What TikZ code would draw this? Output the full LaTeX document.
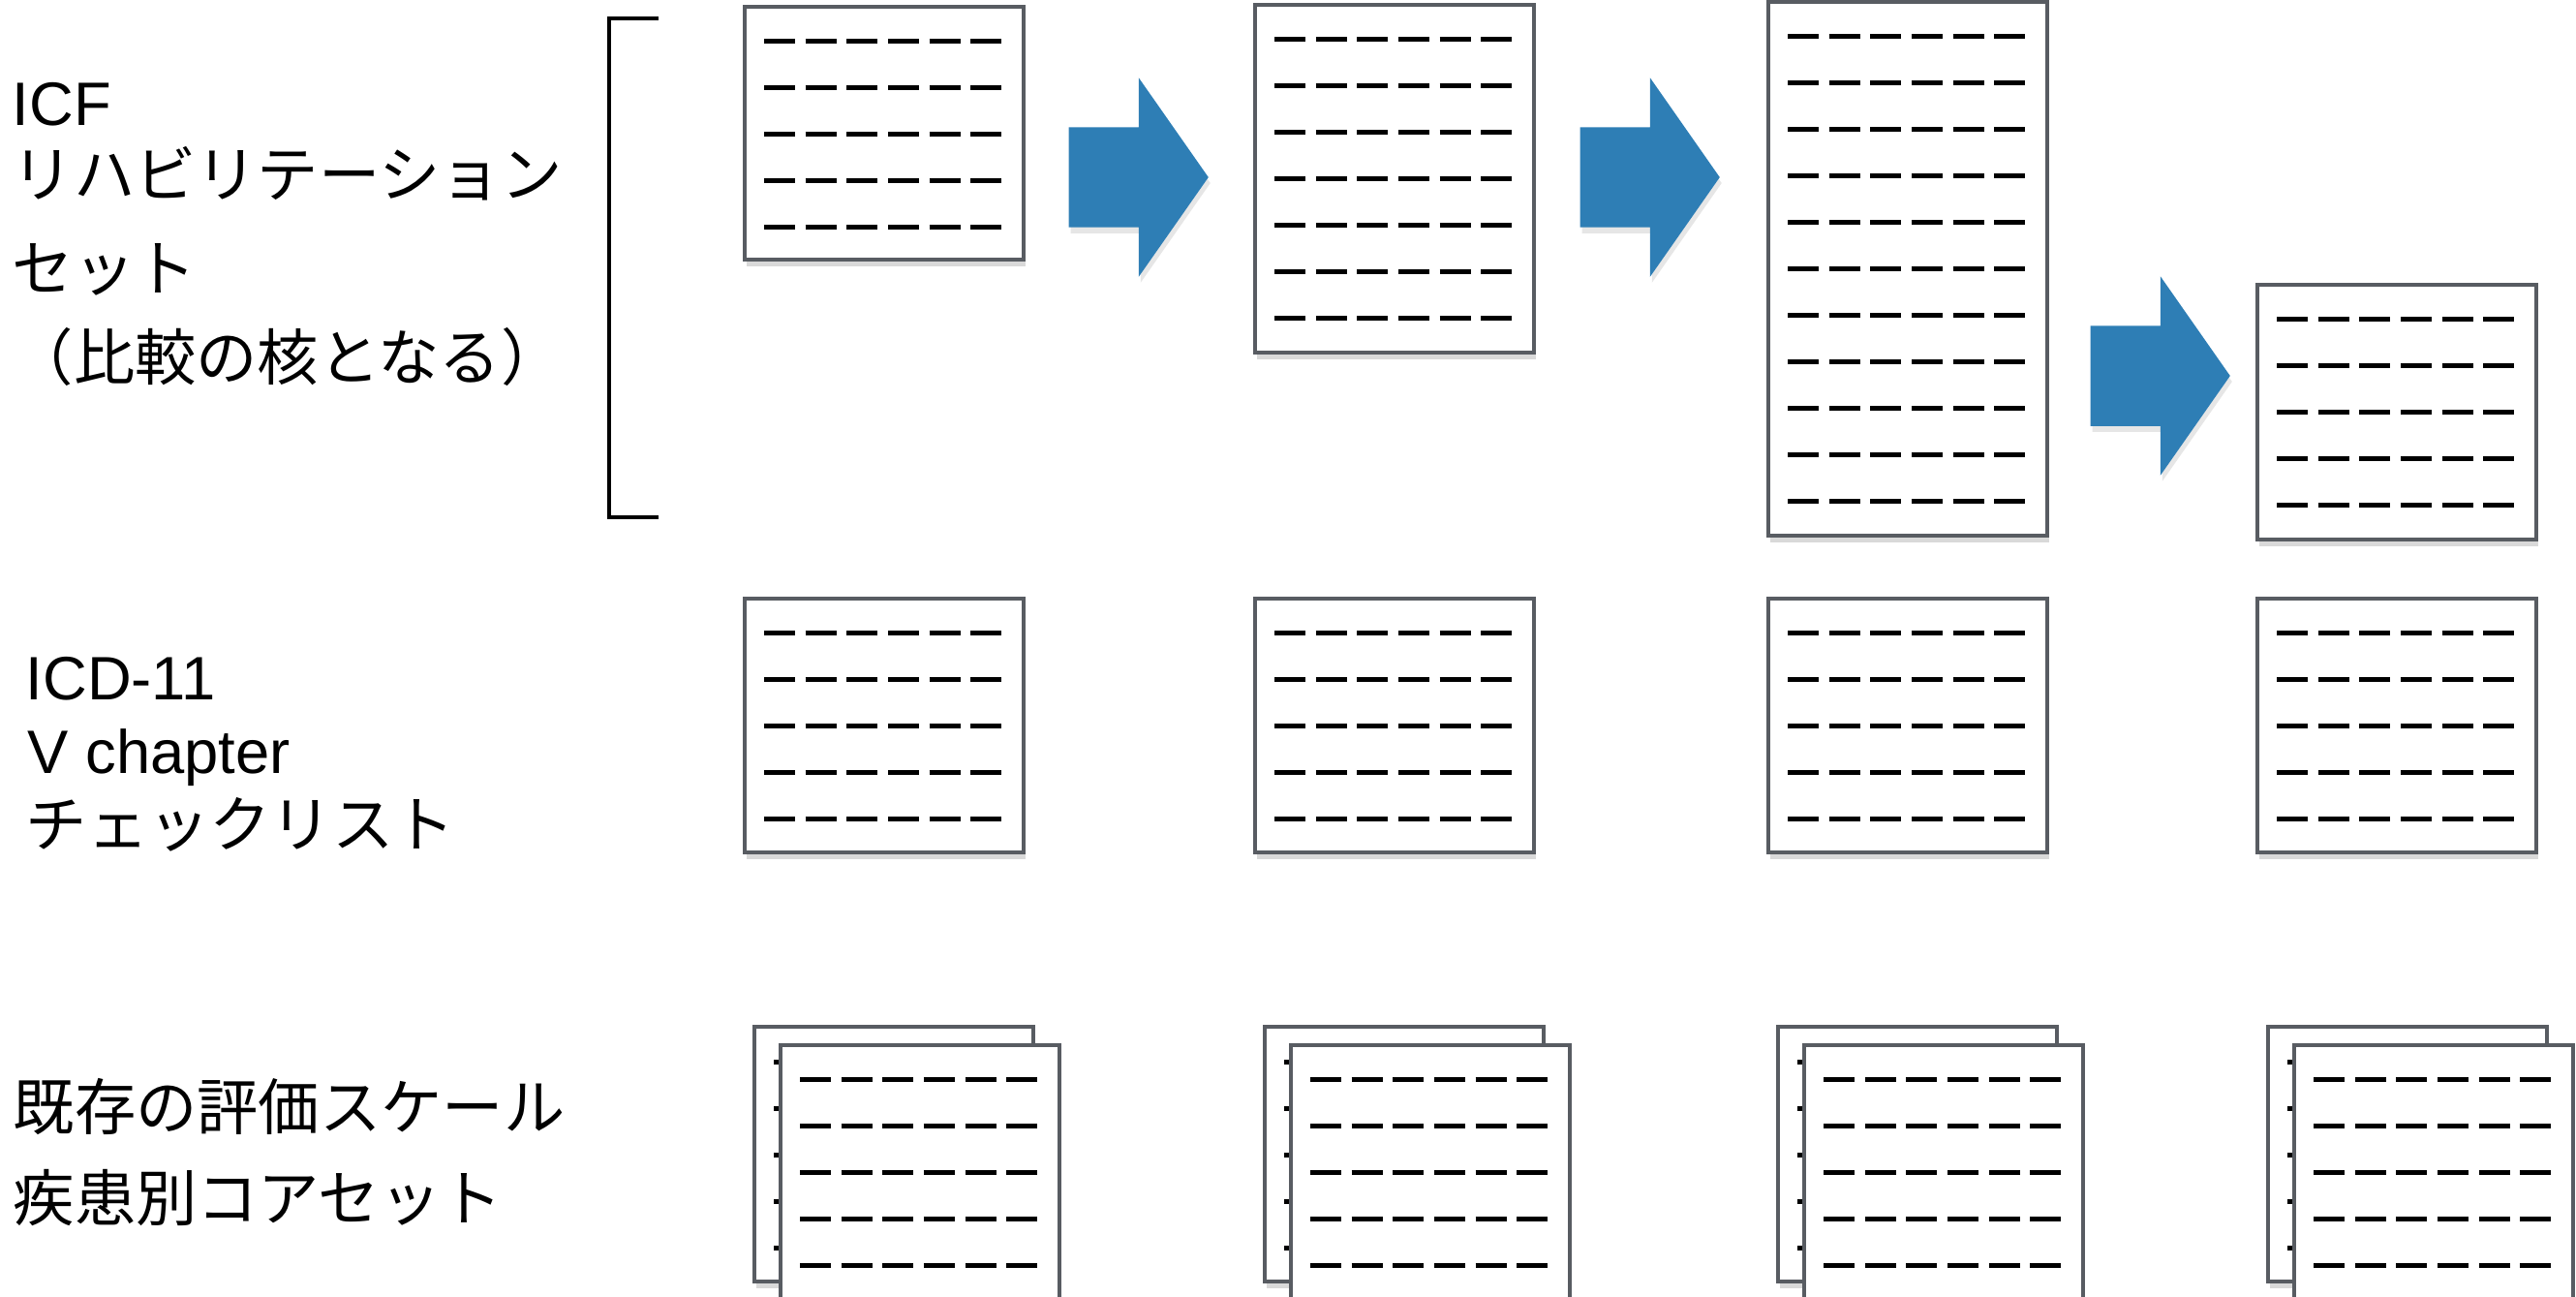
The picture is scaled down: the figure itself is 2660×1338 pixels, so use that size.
\documentclass[tikz,border=0pt]{standalone}
\usepackage{fontspec}
\setmainfont{Liberation Sans}
\newfontfamily\jp{Noto Sans CJK JP}
\usepackage{tikz}
\usetikzlibrary{shapes.arrows, shadows}
\definecolor{sheetgray}{RGB}{88,92,98}
\definecolor{arrowblue}{RGB}{46,126,181}

\begin{document}
\begin{tikzpicture}[x=0.01cm, y=-0.01cm,
    sheet/.style={draw=sheetgray, line width=0.35mm, fill=white, inner sep=0,
        anchor=north west, minimum width=2.88cm,
        drop shadow={shadow xshift=0.2mm, shadow yshift=-0.7mm, opacity=0.3}},
    dashrow/.style={line width=0.5mm, dash pattern=on 3.2mm off 1.06mm},
    bigarrow/.style={single arrow, fill=arrowblue, anchor=tail,
        inner xsep=0, inner ysep=0.51cm, text height=0, text depth=0,
        minimum height=1.44cm, minimum width=2.04cm,
        single arrow head extend=0.51cm, single arrow tip angle=110,
        drop shadow={shadow xshift=0.2mm, shadow yshift=-0.6mm, opacity=0.2}},
    rowtext/.style={anchor=base west, inner sep=0, font=\fontsize{18}{22}\selectfont}]
    \useasboundingbox (0,0) rectangle (2660,1338);

    % row labels
    \node[rowtext] (icf1) at (12,129) {ICF};
    \node[rowtext] (icf2) at (12,203) {\jp リハビリテーション};
    \node[rowtext] (icf3) at (12,300) {\jp セット};
    \node[rowtext] (icf4) at (12,392) {\jp （比較の核となる）};
    \node[rowtext] (icd1) at (26,722) {ICD-11};
    \node[rowtext] (icd2) at (28,798) {V chapter};
    \node[rowtext] (icd3) at (26,874) {\jp チェックリスト};
    \node[rowtext] (scl1) at (13,1166) {\jp 既存の評価スケール};
    \node[rowtext] (scl2) at (13,1260) {\jp 疾患別コアセット};

    % bracket
    \draw[line width=1pt] (680,19) -- (629,19) -- (629,534) -- (680,534);

    % ICF sheets
    \foreach \nm/\x/\y/\h/\n in {icfA/767/5/261/4, icfB/1294/3/359/6,
                                 icfC/1824/0/551/10, icfD/2329/292/263/4} {
        \node[sheet, minimum height=\h*0.01cm] (\nm) at (\x,\y) {};
        \foreach \k in {0,...,\n}
            \draw[dashrow] ([shift={(22,37+48*\k)}]\nm.north west) -- ++(246,0);
    }

    % ICD-11 sheets
    \foreach \nm/\x in {icdA/767, icdB/1294, icdC/1824, icdD/2329} {
        \node[sheet, minimum height=2.62cm] (\nm) at (\x,616) {};
        \foreach \k in {0,...,4}
            \draw[dashrow] ([shift={(22,37+48*\k)}]\nm.north west) -- ++(246,0);
    }

    % scale stacks
    \foreach \nm/\x in {sclA/777, sclB/1304, sclC/1834, sclD/2340} {
        \node[sheet, minimum height=2.63cm] (\nm-back) at (\x,1058) {};
        \foreach \k in {0,...,4}
            \draw[dashrow] ([shift={(22,38+48*\k)}]\nm-back.north west) -- ++(246,0);
        \node[sheet, minimum height=2.63cm] (\nm) at (\x+27,1077) {};
        \foreach \k in {0,...,4}
            \draw[dashrow] ([shift={(22,37+48*\k)}]\nm.north west) -- ++(246,0);
    }

    % arrows
    \node[bigarrow] (arrA) at (1103,183) {};
    \node[bigarrow] (arrB) at (1631,183) {};
    \node[bigarrow] (arrC) at (2158,388) {};
\end{tikzpicture}
\end{document}
